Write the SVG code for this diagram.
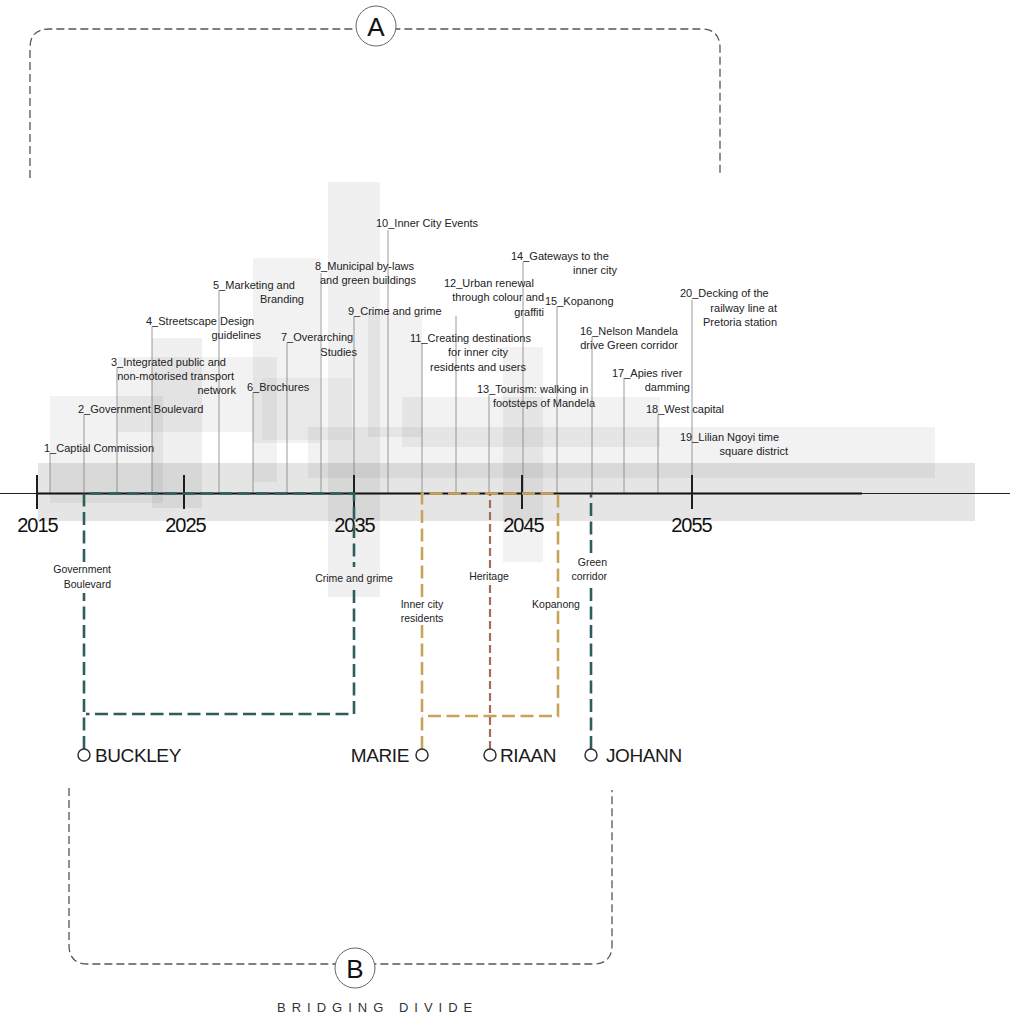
<svg xmlns="http://www.w3.org/2000/svg" width="1010" height="1013" viewBox="0 0 1010 1013">
<style>
.bg{fill:#000}
.lbl{font-family:"Liberation Sans",Arial,sans-serif;font-size:11px;fill:#222}
.plbl{font-family:"Liberation Sans",Arial,sans-serif;font-size:10.5px;fill:#222}
.yr{font-family:"Liberation Sans",Arial,sans-serif;font-size:20px;fill:#111;text-anchor:middle;letter-spacing:-1px}
.name{font-family:"Liberation Sans",Arial,sans-serif;font-size:19px;fill:#1a1a1a;letter-spacing:-0.4px}
.lead{stroke:#808080;stroke-width:0.8;fill:none}
.tick{stroke:#1e1e1e;stroke-width:2}
.br{fill:none;stroke:#555;stroke-width:1.3;stroke-dasharray:8 4}
.teal{fill:none;stroke:#2e5d5b;stroke-width:2.6;stroke-dasharray:13 5.5}
.gold{fill:none;stroke:#c9a35a;stroke-width:2.6;stroke-dasharray:13 5.5}
.rose{fill:none;stroke:#a36d5c;stroke-width:2.2;stroke-dasharray:8 4}
.dot{fill:#fff;stroke:#333;stroke-width:1.5}
.badge{fill:#fff;stroke:#666;stroke-width:1}
.badgeT{font-family:"Liberation Sans",Arial,sans-serif;font-size:26px;fill:#111;text-anchor:middle}
.end{text-anchor:end}
.mid{text-anchor:middle}
</style>

<g id="background">
<rect class="bg" x="38" y="463" width="937" height="58" fill-opacity="0.10"/>
<rect class="bg" x="308" y="427" width="627" height="51" fill-opacity="0.05"/>
<rect class="bg" x="328" y="182" width="52" height="415" fill-opacity="0.06"/>
<rect class="bg" x="50" y="396" width="113" height="107" fill-opacity="0.05"/>
<rect class="bg" x="152" y="338" width="50" height="170" fill-opacity="0.06"/>
<rect class="bg" x="118" y="357" width="159" height="75" fill-opacity="0.05"/>
<rect class="bg" x="253" y="432" width="24" height="50" fill-opacity="0.05"/>
<rect class="bg" x="253" y="258" width="67" height="185" fill-opacity="0.05"/>
<rect class="bg" x="262" y="378" width="90" height="62" fill-opacity="0.04"/>
<rect class="bg" x="368" y="313" width="54" height="124" fill-opacity="0.05"/>
<rect class="bg" x="402" y="397" width="258" height="50" fill-opacity="0.05"/>
<rect class="bg" x="503" y="347" width="40" height="215" fill-opacity="0.05"/>
</g>

<g id="bracket-a">
<path class="br" d="M30,178 V48 Q30,29 49,29 H701 Q720,29 720,48 V176"/>
<circle class="badge" cx="376" cy="26" r="20"/>
<text class="badgeT" x="376" y="35.5">A</text>
</g>

<g id="bracket-b">
<path class="br" d="M69,788 V945 Q69,964 88,964 H593 Q612,964 612,945 V790"/>
<circle class="badge" cx="355" cy="968" r="20"/>
<text class="badgeT" x="355" y="977.5">B</text>
<text x="277" y="1012" font-family="'Liberation Sans',Arial,sans-serif" font-size="13" fill="#333" letter-spacing="6">BRIDGING DIVIDE</text>
</g>

<g id="connectors">
<g id="leaders">
<line class="lead" x1="50" y1="453" x2="50" y2="493"/>
<line class="lead" x1="84" y1="415" x2="84" y2="493"/>
<line class="lead" x1="117" y1="368" x2="117" y2="493"/>
<line class="lead" x1="152" y1="327" x2="152" y2="493"/>
<line class="lead" x1="219" y1="291" x2="219" y2="493"/>
<line class="lead" x1="253" y1="393" x2="253" y2="493"/>
<line class="lead" x1="287" y1="343" x2="287" y2="493"/>
<line class="lead" x1="321" y1="273" x2="321" y2="493"/>
<line class="lead" x1="354" y1="317" x2="354" y2="493"/>
<line class="lead" x1="388" y1="230" x2="388" y2="493"/>
<line class="lead" x1="422" y1="343" x2="422" y2="493"/>
<line class="lead" x1="456" y1="316" x2="456" y2="493"/>
<line class="lead" x1="489" y1="395" x2="489" y2="493"/>
<line class="lead" x1="523" y1="262" x2="523" y2="493"/>
<line class="lead" x1="557" y1="307" x2="557" y2="493"/>
<line class="lead" x1="592" y1="337" x2="592" y2="493"/>
<line class="lead" x1="624" y1="378" x2="624" y2="493"/>
<line class="lead" x1="658" y1="415" x2="658" y2="493"/>
<line class="lead" x1="692" y1="300" x2="692" y2="493"/>
</g>
</g>

<g id="timeline">
<line x1="0" y1="493.5" x2="1010" y2="493.5" stroke="#222" stroke-width="1.2"/>
<line x1="37" y1="493.5" x2="862" y2="493.5" stroke="#111" stroke-width="2.2"/>
<line class="tick" x1="37" y1="475" x2="37" y2="509"/>
<line class="tick" x1="184" y1="475" x2="184" y2="509"/>
<line class="tick" x1="354" y1="475" x2="354" y2="509"/>
<line class="tick" x1="522" y1="475" x2="522" y2="509"/>
<line class="tick" x1="692" y1="475" x2="692" y2="509"/>
<text class="yr" x="37.5" y="532">2015</text>
<text class="yr" x="185.5" y="532">2025</text>
<text class="yr" x="354.5" y="532">2035</text>
<text class="yr" x="523.5" y="532">2045</text>
<text class="yr" x="691.5" y="532">2055</text>
</g>

<g id="item-1"><text class="lbl" x="44" y="452">1_Captial Commission</text></g>
<g id="item-2"><text class="lbl" x="78" y="413">2_Government Boulevard</text></g>
<g id="item-3"><text class="lbl" x="111" y="366">3_Integrated public and</text><text class="lbl end" x="234" y="380">non-motorised transport</text><text class="lbl end" x="236" y="394">network</text></g>
<g id="item-4"><text class="lbl" x="146" y="325">4_Streetscape Design</text><text class="lbl end" x="261" y="339">guidelines</text></g>
<g id="item-5"><text class="lbl" x="213" y="289">5_Marketing and</text><text class="lbl end" x="304" y="303">Branding</text></g>
<g id="item-6"><text class="lbl" x="247" y="391">6_Brochures</text></g>
<g id="item-7"><text class="lbl" x="281" y="341">7_Overarching</text><text class="lbl end" x="357" y="356">Studies</text></g>
<g id="item-8"><text class="lbl" x="315" y="270">8_Municipal by-laws</text><text class="lbl end" x="416" y="284">and green buildings</text></g>
<g id="item-9"><text class="lbl" x="348" y="315">9_Crime and grime</text></g>
<g id="item-10"><text class="lbl" x="376" y="227">10_Inner City Events</text></g>
<g id="item-11"><text class="lbl" x="410" y="342">11_Creating destinations</text><text class="lbl mid" x="478" y="356">for inner city</text><text class="lbl mid" x="478" y="371">residents and users</text></g>
<g id="item-12"><text class="lbl" x="444" y="287">12_Urban renewal</text><text class="lbl end" x="544" y="301">through colour and</text><text class="lbl end" x="544" y="316">graffiti</text></g>
<g id="item-13"><text class="lbl" x="477" y="393">13_Tourism: walking in</text><text class="lbl end" x="595" y="407">footsteps of Mandela</text></g>
<g id="item-14"><text class="lbl" x="511" y="260">14_Gateways to the</text><text class="lbl end" x="617" y="274">inner city</text></g>
<g id="item-15"><text class="lbl" x="545" y="305">15_Kopanong</text></g>
<g id="item-16"><text class="lbl" x="580" y="335">16_Nelson Mandela</text><text class="lbl end" x="678" y="349">drive Green corridor</text></g>
<g id="item-17"><text class="lbl" x="612" y="377">17_Apies river</text><text class="lbl end" x="690" y="391">damming</text></g>
<g id="item-18"><text class="lbl" x="646" y="413">18_West capital</text></g>
<g id="item-19"><text class="lbl" x="680" y="441">19_Lilian Ngoyi time</text><text class="lbl end" x="788" y="455">square district</text></g>
<g id="item-20"><text class="lbl" x="680" y="297">20_Decking of the</text><text class="lbl end" x="777" y="312">railway line at</text><text class="lbl end" x="777" y="326">Pretoria station</text></g>

<g id="routes">
<path class="teal" d="M84,749 V593 M84,562 V493.5 H354 V567 M354,590 V714 H86"/>
<path class="gold" d="M422,749 V624 M422,597 V493.5 H558 V598 M558,611 V716 H422"/>
<path class="rose" d="M490,749 V583 M490,568 V494"/>
<path class="teal" d="M591,749 V583 M591,553 V494"/>
</g>

<g id="buckley">
<text class="plbl end" x="111" y="573">Government</text>
<text class="plbl end" x="111" y="588">Boulevard</text>
<text class="plbl mid" x="354" y="582">Crime and grime</text>
<circle class="dot" cx="84" cy="755" r="6"/>
<text class="name" x="95" y="762">BUCKLEY</text>
</g>
<g id="marie">
<text class="plbl mid" x="422" y="608">Inner city</text>
<text class="plbl mid" x="422" y="622">residents</text>
<text class="plbl mid" x="556" y="608">Kopanong</text>
<circle class="dot" cx="422" cy="755" r="6"/>
<text class="name end" x="409" y="762">MARIE</text>
</g>
<g id="riaan">
<text class="plbl mid" x="489" y="580">Heritage</text>
<circle class="dot" cx="490" cy="755" r="6"/>
<text class="name" x="500" y="762">RIAAN</text>
</g>
<g id="johann">
<text class="plbl end" x="607" y="566">Green</text>
<text class="plbl end" x="607" y="580">corridor</text>
<circle class="dot" cx="591" cy="755" r="6"/>
<text class="name" x="606" y="762">JOHANN</text>
</g>
</svg>
